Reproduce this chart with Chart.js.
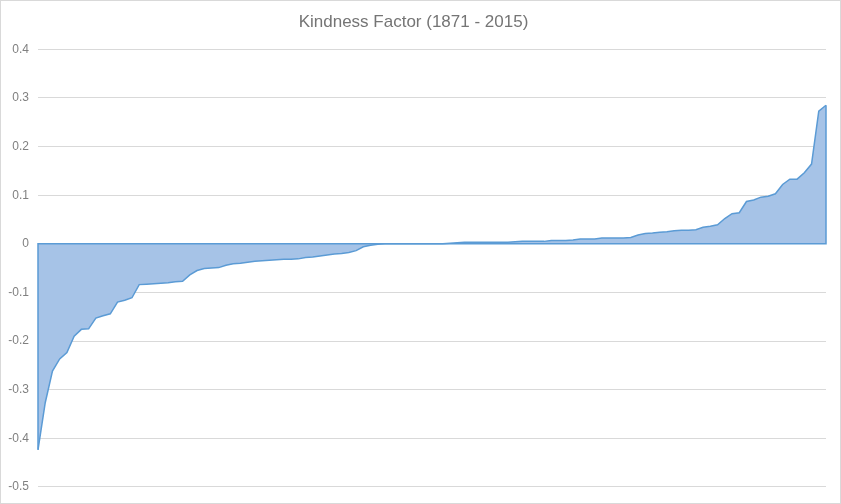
<!DOCTYPE html>
<html>
<head>
<meta charset="utf-8">
<script src="https://cdn.jsdelivr.net/npm/chart.js@4/dist/chart.umd.min.js"></script>
<style>
  html, body { margin: 0; padding: 0; background: #fff; }
  #frame { width: 841px; height: 504px; box-sizing: border-box; border: 1px solid #d9d9d9; }
  #wrap { position: relative; width: 839px; height: 502px; }
</style>
</head>
<body>
<div id="frame"><div id="wrap"><canvas id="kindChart"></canvas></div></div>
<script>
  // Kindness factor per year, sorted from lowest to highest
  var kindness = [
    -0.424, -0.327, -0.262, -0.237, -0.224, -0.190, -0.176, -0.175, -0.153, -0.148,
    -0.144, -0.120, -0.116, -0.111, -0.084, -0.083, -0.082, -0.081, -0.080, -0.078,
    -0.077, -0.064, -0.055, -0.051, -0.050, -0.049, -0.044, -0.041, -0.040, -0.038,
    -0.036, -0.035, -0.034, -0.033, -0.032, -0.032, -0.031, -0.028, -0.027, -0.025,
    -0.023, -0.021, -0.020, -0.018, -0.014, -0.006, -0.003, -0.001, 0, 0,
    0, 0, 0, 0, 0, 0, 0, 0.001, 0.002, 0.003,
    0.003, 0.003, 0.003, 0.003, 0.003, 0.003, 0.004, 0.005, 0.005, 0.005,
    0.005, 0.007, 0.007, 0.007, 0.008, 0.010, 0.010, 0.010, 0.012, 0.012,
    0.012, 0.012, 0.013, 0.018, 0.021, 0.022, 0.024, 0.025, 0.027, 0.028,
    0.028, 0.029, 0.034, 0.036, 0.039, 0.052, 0.062, 0.064, 0.087, 0.090,
    0.096, 0.098, 0.103, 0.122, 0.133, 0.133, 0.146, 0.164, 0.273, 0.285
  ];
  // rank of each value (no axis labels are shown)
  var ranks = kindness.map(function (v, i) { return i + 1; });

  var yMin = -0.5, yMax = 0.4, yStep = 0.1;
  var titleText = 'Kindness Factor (1871 - 2015)';

  // draws the left/right edges and base line of the area, like Excel's area outline
  var areaOutline = {
    id: 'areaOutline',
    afterDatasetsDraw: function (chart) {
      var pts = chart.getDatasetMeta(0).data;
      var first = pts[0], last = pts[pts.length - 1];
      var y0 = chart.scales.y.getPixelForValue(0);
      var c = chart.ctx;
      c.save();
      c.strokeStyle = '#5b9bd5';
      c.lineWidth = 1.5;
      c.beginPath();
      c.moveTo(first.x, first.y);
      c.lineTo(first.x, y0);
      c.lineTo(last.x, y0);
      c.lineTo(last.x, last.y);
      c.stroke();
      c.restore();
    }
  };

  var ctx = document.getElementById('kindChart').getContext('2d');
  var kindChart = new Chart(ctx, {
    type: 'line',
    data: {
      labels: ranks,
      datasets: [{
        label: 'Kindness Factor',
        data: kindness,
        borderColor: '#5b9bd5',
        backgroundColor: '#a6c3e7',
        borderWidth: 1.5,
        pointRadius: 0,
        tension: 0,
        fill: 'origin'
      }]
    },
    options: {
      responsive: true,
      maintainAspectRatio: false,
      animation: false,
      layout: { padding: { left: 0, right: 14, top: 0, bottom: 15 } },
      plugins: {
        legend: { display: false },
        tooltip: { enabled: false },
        title: {
          display: true,
          text: titleText,
          color: '#757575',
          font: { family: '"Liberation Sans Narrow", "Liberation Sans", sans-serif', size: 17, weight: 'normal' },
          padding: { top: 11, bottom: 17 }
        }
      },
      scales: {
        x: { display: false },
        y: {
          min: yMin,
          max: yMax,
          afterFit: function (scale) { scale.width = 37; },
          border: { display: false },
          grid: { color: '#d9d9d9', lineWidth: 1, drawTicks: false },
          ticks: {
            stepSize: yStep,
            padding: 9,
            color: '#808080',
            font: { family: '"Liberation Sans Narrow", "Liberation Sans", sans-serif', size: 12 },
            callback: function (v) { return Math.round(v * 10) / 10; }
          }
        }
      }
    },
    plugins: [areaOutline]
  });
</script>
</body>
</html>
